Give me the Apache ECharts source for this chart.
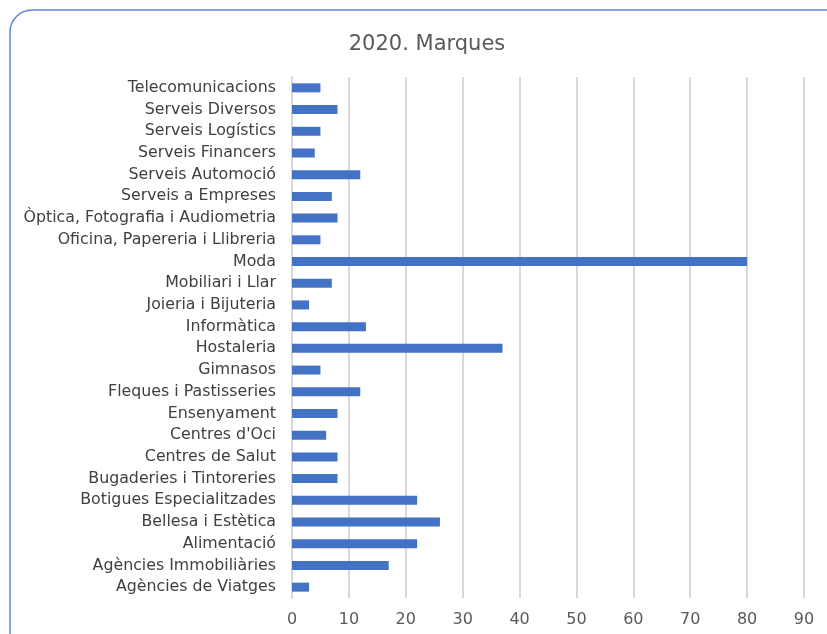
<!DOCTYPE html>
<html>
<head>
<meta charset="utf-8">
<script src="https://cdn.jsdelivr.net/npm/echarts@6/dist/echarts.min.js"></script>
<style>
  html, body { margin: 0; padding: 0; background: #fff; }
  #chart { width: 827px; height: 634px; }
</style>
</head>
<body>
<div id="chart"></div>
<script>
  // categories from bottom to top
  var categories = [
    'Agències de Viatges', 'Agències Immobiliàries', 'Alimentació', 'Bellesa i Estètica',
    'Botigues Especialitzades', 'Bugaderies i Tintoreries', 'Centres de Salut', "Centres d'Oci",
    'Ensenyament', 'Fleques i Pastisseries', 'Gimnasos', 'Hostaleria', 'Informàtica',
    'Joieria i Bijuteria', 'Mobiliari i Llar', 'Moda', 'Oficina, Papereria i Llibreria',
    'Òptica, Fotografia i Audiometria', 'Serveis a Empreses', 'Serveis Automoció',
    'Serveis Financers', 'Serveis Logístics', 'Serveis Diversos', 'Telecomunicacions'
  ];
  var marques = [3, 17, 22, 26, 22, 8, 8, 6, 8, 12, 5, 37, 13, 3, 7, 80, 5, 8, 7, 12, 4, 5, 8, 5];
  var xTicks = [0, 90, 10];

  var myChart = echarts.init(document.getElementById('chart'));
  var option = {
    animation: false,
    title: {
      text: '2020. Marques',
      left: 422,
      top: 29,
      textAlign: 'center',
      textStyle: {
        fontFamily: 'DejaVu Sans',
        fontSize: 21,
        fontWeight: 'normal',
        color: '#595959'
      }
    },
    graphic: [{
      type: 'rect',
      shape: { x: 10, y: 10, width: 840, height: 660, r: 22 },
      style: { fill: 'none', stroke: '#5b86d6', lineWidth: 1.5 },
      z: -1
    }],
    grid: {
      left: 292,
      right: 23,
      top: 77,
      bottom: 36
    },
    xAxis: {
      type: 'value',
      min: xTicks[0],
      max: xTicks[1],
      interval: xTicks[2],
      axisLine: { show: false },
      axisTick: { show: false },
      splitLine: { lineStyle: { color: '#d9d9d9', width: 2 } },
      axisLabel: {
        margin: 14,
        fontFamily: 'DejaVu Sans',
        fontSize: 16,
        color: '#595959'
      }
    },
    yAxis: {
      type: 'category',
      data: categories,
      axisLine: { show: true, lineStyle: { color: '#d9d9d9', width: 2 } },
      axisTick: { show: false },
      axisLabel: {
        interval: 0,
        margin: 16,
        fontFamily: 'DejaVu Sans',
        fontSize: 15.8,
        color: '#404040'
      }
    },
    series: [{
      name: '2020. Marques',
      type: 'bar',
      data: marques,
      barWidth: 9,
      itemStyle: { color: '#4472c4' }
    }]
  };
  myChart.setOption(option);
</script>
</body>
</html>
